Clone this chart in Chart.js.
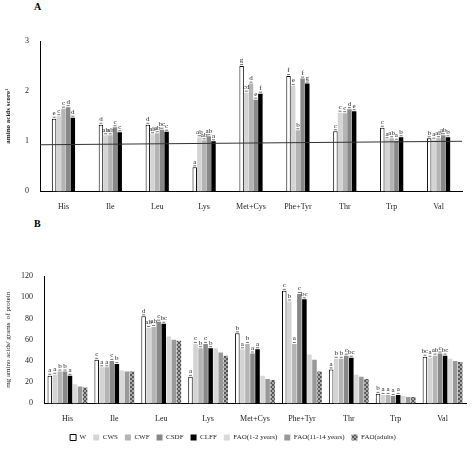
<!DOCTYPE html>
<html><head><script src="https://cdn.jsdelivr.net/npm/chart.js@4"></script>
<style>body{margin:0;background:#fff;font-family:'Liberation Serif',serif}
.l{position:absolute;font-size:10px;font-weight:bold;font-family:'Liberation Serif',serif}
#wa{position:absolute;left:0;top:0;width:474px;height:216px}
#wb{position:absolute;left:0;top:228px;width:474px;height:223px}</style></head>
<body>
<div class="l" style="left:34px;top:1px">A</div>
<div class="l" style="left:34px;top:218px">B</div>
<div id="wa"><canvas id="ca"></canvas></div>
<div id="wb"><canvas id="cb"></canvas></div>
<script>
const categories=['His','Ile','Leu','Lys','Met+Cys','Phe+Tyr','Thr','Trp','Val'];
const seriesA=['W','CWS','CWF','CSDF','CLFF'];
const aW=[1.45,1.33,1.33,0.48,2.5,2.3,1.2,1.27,1.06];
const aCWS=[1.5,1.12,1.14,1.08,1.97,2.1,1.57,1.04,1.03];
const aCWF=[1.65,1.12,1.16,1.02,2.15,1.22,1.56,1.06,1.06];
const aCSDF=[1.68,1.28,1.23,1.1,1.83,2.25,1.64,1.01,1.12];
const aCLFF=[1.47,1.18,1.19,1.0,1.95,2.15,1.6,1.08,1.08];
const aLetters=[['e','d','d','a','g','f','c','c','b'],['c','ab','ab','ab','cd','e','c','a','a'],['c','ab','ab','ab','d','b','c','ab','ab'],['d','c','bc','ab','e','f','d','a','ab'],['d','c','c','a','f','g','e','b','b']];
const refLine=[0.93,1.0];
const seriesB=['W','CWS','CWF','CSDF','CLFF','FAO(1-2 years)','FAO(11-14 years)','FAO(adults)'];
const bW=[26,41,82,25,66,106,32,9,44];
const bCWS=[27,34,71,56,51,96,42,8,43];
const bCWF=[30,34,72,52,56,56,42,8,45];
const bCSDF=[30,40,77,56,47,103,45,7,47];
const bCLFF=[26,37,75,52,51,98,43,8,45];
const bFAO1=[18,31,63,52,26,46,27,7,42];
const bFAO11=[16,30,60,48,23,41,25,6,40];
const bFAOad=[15,30,59,45,22,30,23,6,39];
const bLetters=[['a','c','d','a','b','c','a','b','bc'],['a','a','ab','c','a','b','b','a','a'],['b','a','ab','b','b','a','b','a','ab'],['b','c','c','c','a','c','c','a','c'],['a','b','bc','b','a','bc','bc','a','bc']];
const fills=['#ffffff','#d4d4d4','#b4b4b4','#888888','#000000','#d8d8d8','#999999'];
function pattern(){const c=document.createElement('canvas');c.width=4;c.height=4;const x=c.getContext('2d');x.fillStyle='#aaa';x.fillRect(0,0,4,4);x.fillStyle='#555';x.fillRect(0,0,2,2);x.fillRect(2,2,2,2);return x.createPattern(c,'repeat');}
const serif="'Liberation Serif', serif";
function letterPlugin(letters){return {id:'letters',afterDatasetsDraw(ch){const c=ch.ctx;c.save();c.font='7px '+serif;c.fillStyle='#222';c.textAlign='center';c.textBaseline='bottom';
letters.forEach((arr,di)=>{const m=ch.getDatasetMeta(di);m.data.forEach((b,i)=>{c.strokeStyle='#333';c.lineWidth=0.7;c.beginPath();c.moveTo(b.x-1.5,b.y-1.5);c.lineTo(b.x+1.5,b.y-1.5);c.stroke();c.fillText(arr[i],b.x,b.y-2);});});c.restore();}};}
const refPlugin={id:'ref',afterDatasetsDraw(ch){const x=ch.scales.x,y=ch.scales.y,c=ch.ctx;c.save();c.strokeStyle='#333';c.lineWidth=1;c.beginPath();c.moveTo(x.left,y.getPixelForValue(refLine[0]));c.lineTo(x.right,y.getPixelForValue(refLine[1]));c.stroke();c.restore();}};
function ds(labels,arrs){return arrs.map((d,i)=>({label:labels[i],data:d,backgroundColor:i===7?pattern():fills[i],borderColor:i===0?'#000':(i===7?'#666':fills[i]),borderWidth:i===0?1:0}));}
function axes(max,step,title,w){return {x:{grid:{display:false},border:{color:'#000'},ticks:{color:'#222',font:{family:serif,size:8}}},
y:{min:0,max:max,afterFit(s){s.width=w;},ticks:{stepSize:step,color:'#222',font:{family:serif,size:8}},grid:{display:false},border:{color:'#000'},title:{display:true,text:title,color:'#222',font:title.startsWith('amino')?{family:serif,size:7,weight:'bold'}:{family:serif,size:7}}}};}
new Chart(document.getElementById('ca'),{type:'bar',data:{labels:categories,datasets:ds(seriesA,[aW,aCWS,aCWF,aCSDF,aCLFF])},
options:{responsive:true,maintainAspectRatio:false,animation:false,datasets:{bar:{categoryPercentage:0.5,barPercentage:0.95}},layout:{padding:{top:41,right:12,left:0,bottom:1}},plugins:{legend:{display:false},tooltip:{enabled:false}},scales:axes(3,1,'amino acids score¹',40)},plugins:[letterPlugin(aLetters),refPlugin]});
new Chart(document.getElementById('cb'),{type:'bar',data:{labels:categories,datasets:ds(seriesB,[bW,bCWS,bCWF,bCSDF,bCLFF,bFAO1,bFAO11,bFAOad])},
options:{responsive:true,maintainAspectRatio:false,animation:false,datasets:{bar:{categoryPercentage:0.86,barPercentage:0.9}},layout:{padding:{top:48,right:8,left:0,bottom:0}},plugins:{legend:{position:'bottom',labels:{boxWidth:6,boxHeight:6,padding:7,color:'#222',font:{family:serif,size:7}}},tooltip:{enabled:false}},scales:axes(120,20,'mg amino acids/ grams  of protein',44)},plugins:[letterPlugin(bLetters)]});
</script></body></html>
